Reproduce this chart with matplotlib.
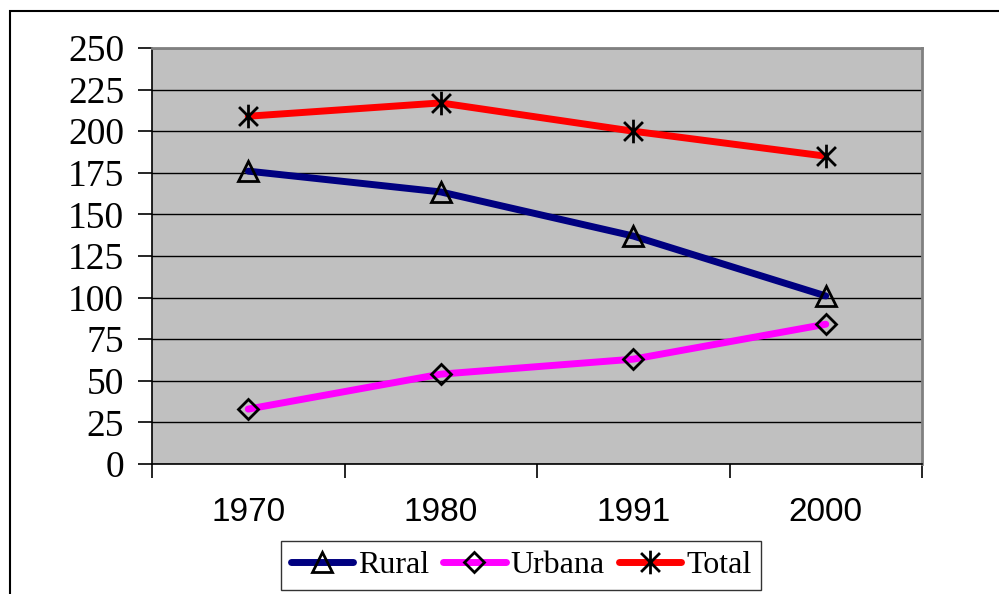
import matplotlib
matplotlib.use("Agg")
import matplotlib.pyplot as plt
from matplotlib.path import Path
from matplotlib.patches import Rectangle

years = ["1970", "1980", "1991", "2000"]
rural = [176, 163.5, 137, 101]
urbana = [33, 54, 63, 84]
total = [209, 217, 200, 185]
yticks = [0, 25, 50, 75, 100, 125, 150, 175, 200, 225, 250]

W, H = 999, 594
fig = plt.figure(figsize=(W / 100, H / 100), dpi=100)
ax = fig.add_axes([152 / W, 1 - 464 / H, (922 - 152) / W, (464 - 48) / H])
ax.set_facecolor("#C0C0C0")

# outer border of chart area
fig.patches.append(Rectangle((10 / W, -0.1), 1.2, 1 - 11 / H + 0.1, transform=fig.transFigure,
                             fill=False, edgecolor="black", linewidth=1.5, zorder=0))

star = Path([(-1, -1), (1, 1), (-1, 1), (1, -1), (0, -1.25), (0, 1.25)],
            [Path.MOVETO, Path.LINETO, Path.MOVETO, Path.LINETO, Path.MOVETO, Path.LINETO])

x = list(range(len(years)))
ax.plot(x, rural, color="#000080", lw=5, marker="^", ms=14, mfc="none", mec="black", mew=2,
        label="Rural", solid_capstyle="round", zorder=3)
ax.plot(x, urbana, color="#FF00FF", lw=5, marker="D", ms=10.5, mfc="none", mec="black", mew=2,
        label="Urbana", solid_capstyle="round", zorder=3)
ax.plot(x, total, color="#FF0000", lw=5, marker=star, ms=17, mfc="none", mec="black", mew=2,
        label="Total", solid_capstyle="round", zorder=3)

ax.set_xlim(-0.5, 3.5)
ax.set_ylim(0, 250)
ax.set_yticks(yticks)
ax.set_yticklabels([str(v) for v in yticks], family="Liberation Serif", fontsize=27)
ax.yaxis.grid(True, color="black", lw=1)
ax.set_axisbelow(True)

ax.set_xticks([-0.5, 0.5, 1.5, 2.5, 3.5])
ax.set_xticklabels([])
ax.set_xticks(x, minor=True)
ax.set_xticklabels(years, minor=True, family="Liberation Sans", fontsize=24)
ax.tick_params(axis="x", which="minor", length=0, pad=24)
ax.tick_params(axis="x", which="major", length=10, width=1.2, direction="out")
ax.tick_params(axis="y", length=10, width=1.2, direction="out", pad=10)

for s in ["top", "right"]:
    ax.spines[s].set_color("#808080")
    ax.spines[s].set_linewidth(2)
for s in ["left", "bottom"]:
    ax.spines[s].set_color("black")
    ax.spines[s].set_linewidth(1.2)

leg = fig.legend(loc="upper center", bbox_to_anchor=(521 / W, 1 - 541 / H), ncol=3,
                 prop={"family": "Liberation Serif", "size": 23}, frameon=True, fancybox=False,
                 edgecolor="black", handlelength=1.95, columnspacing=0.45, handletextpad=0.15,
                 borderpad=0.3, borderaxespad=0)
leg.get_frame().set_linewidth(1)

fig.savefig("out.png", dpi=100)
